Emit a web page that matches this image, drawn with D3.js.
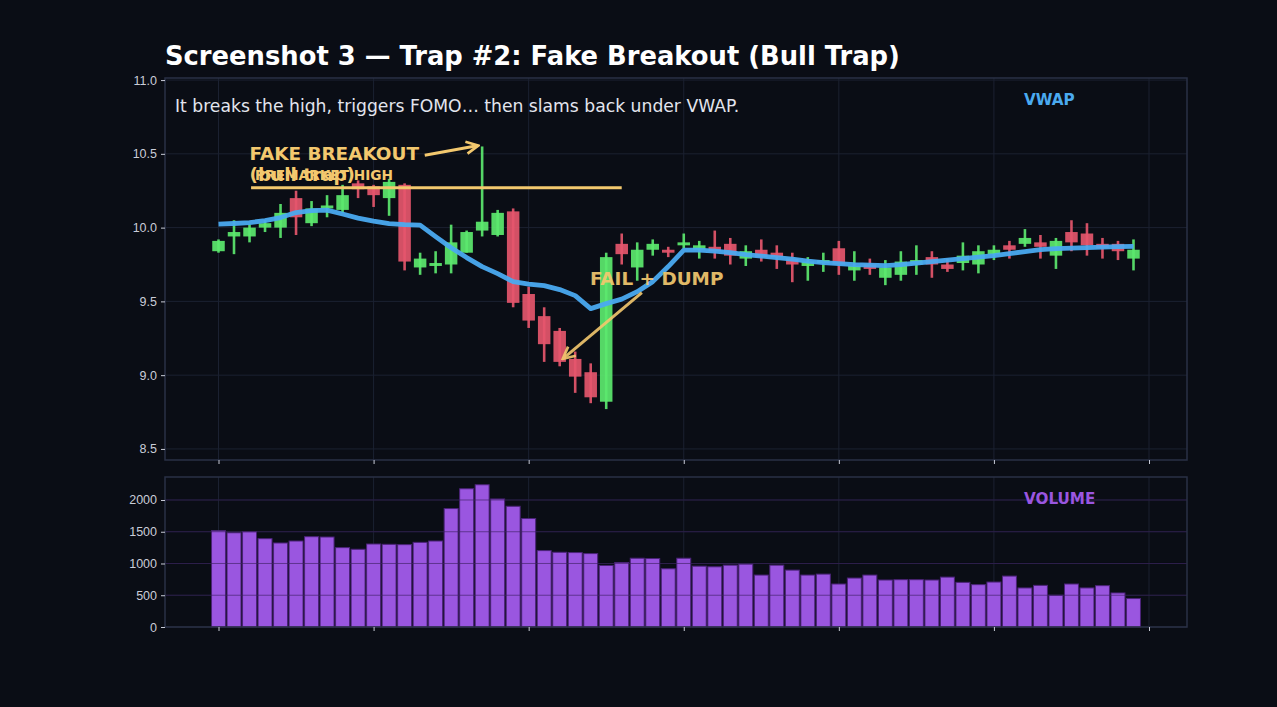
<!DOCTYPE html>
<html>
<head>
<meta charset="utf-8">
<script src="https://cdn.jsdelivr.net/npm/d3@7"></script>
<style>
  html, body { margin: 0; padding: 0; background: #0a0d15; }
  svg { display: block; font-family: "DejaVu Sans", sans-serif; }
  .axis text { fill: #c9ccd8; font-size: 12.5px; }
  .axis path { display: none; }
  .axis line { stroke: #c9ccd8; }
</style>
</head>
<body>
<svg width="1277" height="707"></svg>
<script>
// candle data, one entry per bar
var opens  = [9.84, 9.94, 9.94, 10.00, 10.00, 10.20, 10.03, 10.13, 10.12, 10.30,
              10.28, 10.20, 10.29, 9.73, 9.74, 9.75, 9.83, 9.98, 9.95, 10.11,
              9.55, 9.40, 9.30, 9.11, 9.02, 8.82, 9.89, 9.73, 9.85, 9.85,
              9.88, 9.85, 9.87, 9.89, 9.79, 9.85, 9.83, 9.79, 9.74, 9.76,
              9.86, 9.71, 9.75, 9.66, 9.68, 9.75, 9.80, 9.75, 9.76, 9.75,
              9.82, 9.88, 9.89, 9.90, 9.81, 9.97, 9.96, 9.89, 9.89, 9.79];
var highs  = [9.92, 10.05, 10.02, 10.05, 10.16, 10.25, 10.18, 10.22, 10.29, 10.32,
              10.29, 10.33, 10.30, 9.83, 9.84, 10.02, 9.98, 10.55, 10.12, 10.13,
              9.60, 9.46, 9.32, 9.16, 9.08, 9.83, 9.96, 9.90, 9.92, 9.87,
              9.96, 9.91, 9.98, 9.93, 9.88, 9.92, 9.88, 9.83, 9.80, 9.83,
              9.91, 9.84, 9.79, 9.78, 9.84, 9.88, 9.84, 9.79, 9.90, 9.88,
              9.88, 9.91, 9.99, 9.95, 9.93, 10.05, 10.03, 9.93, 9.91, 9.92];
var lows   = [9.83, 9.82, 9.90, 9.97, 9.93, 9.95, 10.01, 10.07, 10.10, 10.20,
              10.14, 10.08, 9.71, 9.68, 9.69, 9.69, 9.83, 9.94, 9.94, 9.46,
              9.32, 9.09, 9.06, 8.88, 8.81, 8.77, 9.75, 9.64, 9.81, 9.80,
              9.86, 9.79, 9.79, 9.75, 9.74, 9.77, 9.72, 9.63, 9.64, 9.70,
              9.68, 9.64, 9.68, 9.61, 9.64, 9.68, 9.66, 9.70, 9.71, 9.69,
              9.78, 9.79, 9.87, 9.79, 9.72, 9.84, 9.81, 9.79, 9.78, 9.71];
var closes = [9.91, 9.97, 10.00, 10.03, 10.10, 10.07, 10.13, 10.15, 10.22, 10.26,
              10.22, 10.31, 9.77, 9.79, 9.76, 9.90, 9.97, 10.04, 10.10, 9.49,
              9.37, 9.21, 9.09, 8.99, 8.85, 9.80, 9.82, 9.85, 9.89, 9.83,
              9.90, 9.88, 9.84, 9.81, 9.84, 9.80, 9.80, 9.75, 9.77, 9.78,
              9.75, 9.74, 9.72, 9.73, 9.77, 9.78, 9.75, 9.72, 9.81, 9.84,
              9.85, 9.85, 9.93, 9.87, 9.91, 9.90, 9.88, 9.86, 9.84, 9.85];
var vwap   = [10.024, 10.028, 10.034, 10.047, 10.068, 10.102, 10.115, 10.119, 10.092, 10.064,
              10.044, 10.027, 10.020, 10.017, 9.939, 9.864, 9.797, 9.736, 9.688, 9.634,
              9.617, 9.607, 9.580, 9.539, 9.451, 9.485, 9.515, 9.566, 9.634, 9.736,
              9.847, 9.847, 9.841, 9.830, 9.817, 9.807, 9.797, 9.786, 9.773, 9.763,
              9.756, 9.749, 9.746, 9.742, 9.749, 9.759, 9.769, 9.780, 9.790, 9.800,
              9.810, 9.824, 9.837, 9.851, 9.858, 9.861, 9.864, 9.868, 9.871, 9.873];
var volumes = [1516, 1484, 1500, 1391, 1323, 1354, 1422, 1417, 1250, 1224,
               1307, 1302, 1297, 1333, 1354, 1865, 2177, 2240, 2016, 1901,
               1708, 1203, 1177, 1172, 1156, 969, 1016, 1083, 1078, 917,
               1083, 958, 948, 974, 990, 818, 974, 896, 818, 833,
               677, 771, 818, 740, 745, 745, 740, 786, 703, 667,
               708, 802, 615, 656, 500, 677, 615, 651, 536, 448];

var priceTicks = [8.5, 9.0, 9.5, 10.0, 10.5, 11.0];
var volumeTicks = [0, 500, 1000, 1500, 2000];
var xTicks = [0, 10, 20, 30, 40, 50, 60];

// annotations (data units)
var breakoutLevel = {from: 2.1, to: 26, price: 10.271, label: 'PREMARKET HIGH'};
var fakeLabel = {x: 2.0, price: 10.455, lines: ['FAKE BREAKOUT', '(bull trap)']};
var fakeArrow = {x1: 13.3, y1: 10.49, x2: 16.75, y2: 10.556};
var dumpLabel = {x: 23.95, price: 9.614, text: 'FAIL + DUMP'};
var dumpArrow = {x1: 27.3, y1: 9.56, x2: 22.2, y2: 9.11};

var GREEN = '#5ce86e', RED = '#e5566c', GOLD = '#f3c86e', BLUE = '#4aaaf0', PURPLE = '#9a56e0';

var svg = d3.select('svg');

var frame = {l: 165, r: 1187};
var price = {t: 78, b: 460};
var vol = {t: 477, b: 627};

var x = d3.scaleLinear().domain([-3.45, 62.45]).range([frame.l, frame.r]);
var yP = d3.scaleLinear().domain([8.425, 11.014]).range([price.b, price.t]);
var yV = d3.scaleLinear().domain([0, 2362]).range([vol.b, vol.t]);

var candles = opens.map(function(o, i) {
    return {i: i, o: o, h: highs[i], l: lows[i], c: closes[i], v: volumes[i], w: vwap[i]};
});

svg.append('defs').append('clipPath').attr('id', 'clipP')
    .append('rect').attr('x', frame.l).attr('y', price.t)
    .attr('width', frame.r - frame.l).attr('height', price.b - price.t);

var marker = svg.select('defs').append('marker')
    .attr('id', 'arrowhead')
    .attr('viewBox', '0 0 10 10')
    .attr('refX', 9).attr('refY', 5)
    .attr('markerWidth', 5).attr('markerHeight', 5)
    .attr('markerUnits', 'strokeWidth')
    .attr('orient', 'auto');
marker.append('path').attr('d', 'M1,1 L9,5 L1,9').attr('fill', 'none')
    .attr('stroke', GOLD).attr('stroke-width', 1.8).attr('stroke-linejoin', 'miter');

function panelBg(top, bottom, yScale, ticks) {
    var g = svg.append('g');
    g.append('rect').attr('x', frame.l).attr('y', top)
        .attr('width', frame.r - frame.l).attr('height', bottom - top)
        .attr('fill', '#0a0d15');
    g.selectAll('.vg').data(xTicks).enter().append('line')
        .attr('x1', function(d) { return x(d); }).attr('x2', function(d) { return x(d); })
        .attr('y1', top).attr('y2', bottom)
        .attr('stroke', '#1b2131').attr('stroke-width', 1);
    g.selectAll('.hg').data(ticks).enter().append('line')
        .attr('x1', frame.l).attr('x2', frame.r)
        .attr('y1', function(d) { return yScale(d); }).attr('y2', function(d) { return yScale(d); })
        .attr('stroke', '#1b2131').attr('stroke-width', 1);
    return g;
}

function panelFrame(top, bottom, yScale, ticks, fmt) {
    svg.append('rect').attr('x', frame.l).attr('y', top)
        .attr('width', frame.r - frame.l).attr('height', bottom - top)
        .attr('fill', 'none').attr('stroke', '#2a3146').attr('stroke-width', 1.5);
    svg.append('g').attr('class', 'axis')
        .attr('transform', 'translate(' + [frame.l, 0] + ')')
        .call(d3.axisLeft(yScale).tickValues(ticks).tickFormat(fmt).tickSize(4).tickPadding(4));
    svg.append('g').attr('class', 'axis')
        .attr('transform', 'translate(' + [0, bottom] + ')')
        .call(d3.axisBottom(x).tickValues(xTicks).tickFormat('').tickSize(4));
}

// ---------- price panel ----------
panelBg(price.t, price.b, yP, priceTicks);
var pg = svg.append('g').attr('clip-path', 'url(#clipP)');

var bodyW = 12.5;
pg.selectAll('.wick').data(candles).enter().append('line')
    .attr('x1', function(d) { return x(d.i); }).attr('x2', function(d) { return x(d.i); })
    .attr('y1', function(d) { return yP(d.h); }).attr('y2', function(d) { return yP(d.l); })
    .attr('stroke', function(d) { return d.c >= d.o ? GREEN : RED; })
    .attr('stroke-width', 2.6).attr('opacity', 0.92);
pg.selectAll('.body').data(candles).enter().append('rect')
    .attr('x', function(d) { return x(d.i) - bodyW / 2; })
    .attr('y', function(d) { return yP(Math.max(d.o, d.c)); })
    .attr('width', bodyW)
    .attr('height', function(d) { return Math.max(2, Math.abs(yP(d.o) - yP(d.c))); })
    .attr('fill', function(d) { return d.c >= d.o ? GREEN : RED; })
    .attr('opacity', 0.92);

var vwapLine = d3.line()
    .x(function(d) { return x(d.i); })
    .y(function(d) { return yP(d.w); });
pg.append('path').datum(candles)
    .attr('d', vwapLine)
    .attr('fill', 'none').attr('stroke', BLUE).attr('stroke-width', 4.8)
    .attr('stroke-linejoin', 'round').attr('opacity', 0.95);

// old high level
pg.append('line')
    .attr('x1', x(breakoutLevel.from)).attr('x2', x(breakoutLevel.to))
    .attr('y1', yP(breakoutLevel.price)).attr('y2', yP(breakoutLevel.price))
    .attr('stroke', GOLD).attr('stroke-width', 3);
pg.append('text').text(breakoutLevel.label)
    .attr('x', x(breakoutLevel.from) + 4).attr('y', yP(breakoutLevel.price) - 7.5)
    .attr('fill', GOLD).attr('font-weight', 'bold').attr('font-size', 13.7);

// fake breakout label + arrow
var ft = pg.append('text')
    .attr('x', x(fakeLabel.x)).attr('y', yP(fakeLabel.price))
    .attr('fill', GOLD).attr('font-weight', 'bold').attr('font-size', 18.4);
fakeLabel.lines.forEach(function(s, k) {
    ft.append('tspan').attr('x', x(fakeLabel.x)).attr('dy', k === 0 ? 0 : 20.5).text(s);
});
pg.append('line')
    .attr('x1', x(fakeArrow.x1)).attr('y1', yP(fakeArrow.y1))
    .attr('x2', x(fakeArrow.x2)).attr('y2', yP(fakeArrow.y2))
    .attr('stroke', GOLD).attr('stroke-width', 3).attr('marker-end', 'url(#arrowhead)');

// fail + dump label + arrow
pg.append('line')
    .attr('x1', x(dumpArrow.x1)).attr('y1', yP(dumpArrow.y1))
    .attr('x2', x(dumpArrow.x2)).attr('y2', yP(dumpArrow.y2))
    .attr('stroke', GOLD).attr('stroke-width', 3).attr('opacity', 0.9)
    .attr('marker-end', 'url(#arrowhead)');
pg.append('text').text(dumpLabel.text)
    .attr('x', x(dumpLabel.x)).attr('y', yP(dumpLabel.price))
    .attr('fill', GOLD).attr('font-weight', 'bold').attr('font-size', 18.4)
    .attr('opacity', 0.92);

svg.append('text').text('It breaks the high, triggers FOMO\u2026 then slams back under VWAP.')
    .attr('x', 175).attr('y', 112)
    .attr('fill', '#e3e5ee').attr('font-size', 17.2);
svg.append('text').text('VWAP')
    .attr('x', 1024).attr('y', 104.5)
    .attr('fill', BLUE).attr('font-weight', 'bold').attr('font-size', 15.2);

panelFrame(price.t, price.b, yP, priceTicks, d3.format('.1f'));

// ---------- volume panel ----------
panelBg(vol.t, vol.b, yV, volumeTicks);
var barW = x(0.9) - x(0);
svg.append('g').selectAll('rect').data(candles).enter().append('rect')
    .attr('x', function(d) { return x(d.i) - barW / 2; })
    .attr('y', function(d) { return yV(d.v); })
    .attr('width', barW)
    .attr('height', function(d) { return yV(0) - yV(d.v); })
    .attr('fill', PURPLE).attr('stroke', '#4b2378').attr('stroke-width', 1);
// grid shows through the bars a little, as in the original
svg.append('g').selectAll('line').data(volumeTicks.slice(1)).enter().append('line')
    .attr('x1', frame.l).attr('x2', frame.r)
    .attr('y1', function(d) { return yV(d); }).attr('y2', function(d) { return yV(d); })
    .attr('stroke', '#3a1f5e').attr('stroke-width', 1).attr('opacity', 0.6);
svg.append('text').text('VOLUME')
    .attr('x', 1024).attr('y', 503.5)
    .attr('fill', PURPLE).attr('font-weight', 'bold').attr('font-size', 15.2);

panelFrame(vol.t, vol.b, yV, volumeTicks, d3.format('d'));

// ---------- title ----------
svg.append('text').text('Screenshot 3 \u2014 Trap #2: Fake Breakout (Bull Trap)')
    .attr('x', 165).attr('y', 65)
    .attr('fill', '#ffffff').attr('font-weight', 'bold').attr('font-size', 25.8);
</script>
</body>
</html>
